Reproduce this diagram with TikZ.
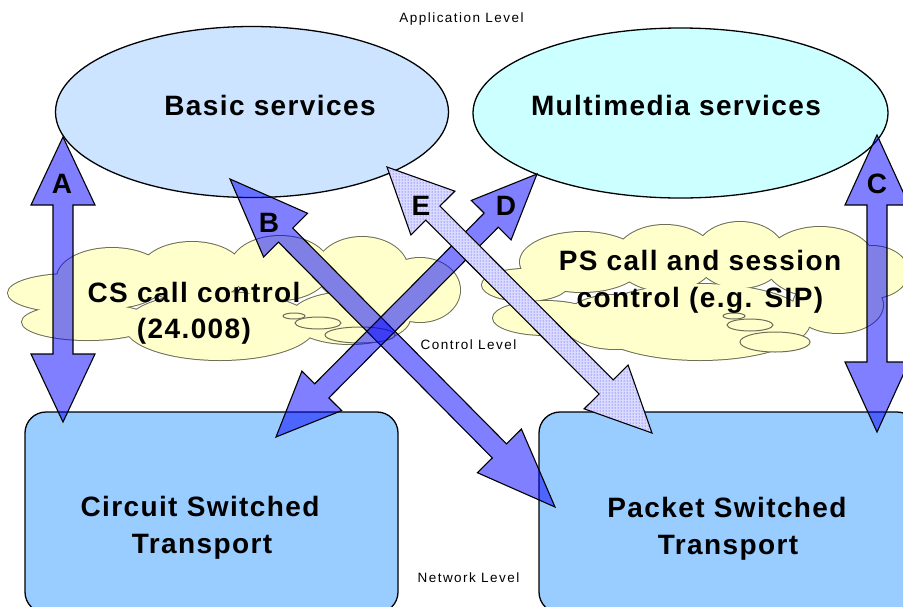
\documentclass[tikz,border=0pt]{standalone}
\usepackage{fontspec}
\setmainfont{Liberation Sans}
\usetikzlibrary{calc,patterns}

\definecolor{boxblue}{HTML}{99CCFF}
\definecolor{basicfill}{HTML}{CCE4FF}
\definecolor{mmfill}{HTML}{CCFFFF}
\definecolor{cloudfill}{HTML}{FFFFCC}
\definecolor{cloudedge}{HTML}{6E6E58}

% Double-headed block arrow between two tips:
% #1,#2 tips, #3 head length, #4 head half width, #5 shaft half width, #6 style
\newcommand\dblarrow[6]{%
  \path[#6] (#1)
    -- ($(#1)!#3!(#2)!#4!90:(#2)$)
    -- ($(#1)!#3!(#2)!#5!90:(#2)$)
    -- ($(#2)!#3!(#1)!#5!-90:(#1)$)
    -- ($(#2)!#3!(#1)!#4!-90:(#1)$)
    -- (#2)
    -- ($(#2)!#3!(#1)!#4!90:(#1)$)
    -- ($(#2)!#3!(#1)!#5!90:(#1)$)
    -- ($(#1)!#3!(#2)!#5!-90:(#2)$)
    -- ($(#1)!#3!(#2)!#4!-90:(#2)$)
    -- cycle;}

\tikzset{
  bigtext/.style={font=\fontsize{28}{34}\selectfont\bfseries\addfontfeatures{LetterSpace=5},
    inner sep=0pt, anchor=base},
  leveltext/.style={font=\fontsize{13.5}{16}\selectfont\addfontfeatures{LetterSpace=11},
    inner sep=0pt, anchor=base},
  letter/.style={font=\fontsize{28}{34}\selectfont\bfseries, inner sep=0pt, anchor=base},
  service/.style={draw=black, line width=1.3pt},
  transport/.style={draw=black, line width=1.3pt, fill=boxblue, rounded corners=21pt},
  blockarrow/.style={draw=black, line width=1.1pt, fill=blue, fill opacity=0.5, line join=miter},
  cloudrim/.style={draw=cloudedge, line width=2pt},
  bubble/.style={draw=cloudedge, line width=1pt, fill=cloudfill},
}

\begin{document}
\begin{tikzpicture}[x=1pt,y=-1pt]
\useasboundingbox (0,0) rectangle (903,606);
\clip (0,0) rectangle (903,606);
\fill[white] (0,0) rectangle (903,606);

% ---- control level clouds (union of lobes, outer rim only) ----
\def\cscloud{70/293/62/19, 88/322/66/18, 112/278/55/30, 192/272/52/30,
  280/268/50/32, 362/270/46/33, 420/290/40/32, 220/326/95/34, 350/318/60/26}
\def\pscloud{525/285/43/16, 545/318/52/17, 582/262/62/30, 665/258/50/33,
  740/255/45/33, 820/262/55/35, 872/272/36/26, 838/305/45/28,
  700/322/110/38, 615/322/52/27}
\foreach \cx/\cy/\rx/\ry in \cscloud
  \path[cloudrim] (\cx,\cy) ellipse [x radius=\rx pt, y radius=\ry pt];
\foreach \cx/\cy/\rx/\ry in \pscloud
  \path[cloudrim] (\cx,\cy) ellipse [x radius=\rx pt, y radius=\ry pt];
\foreach \cx/\cy/\rx/\ry in \cscloud
  \fill[cloudfill] (\cx,\cy) ellipse [x radius=\rx pt, y radius=\ry pt];
\foreach \cx/\cy/\rx/\ry in \pscloud
  \fill[cloudfill] (\cx,\cy) ellipse [x radius=\rx pt, y radius=\ry pt];
% callout bubbles
\foreach \cx/\cy/\rx/\ry in {294/316/11/3, 318/323/23/6, 360/335/35/8,
  734/316/11/3, 750/325/23/6, 775/342/35/10}
  \path[bubble] (\cx,\cy) ellipse [x radius=\rx pt, y radius=\ry pt];

% ---- application level services ----
\path[service, fill=basicfill] (252,112) ellipse [x radius=196.5pt, y radius=85.5pt];
\path[service, fill=mmfill] (680.5,113) ellipse [x radius=207.5pt, y radius=85pt];

% ---- network level transports ----
\draw[transport] (25,412) rectangle (398,613);
\draw[transport] (539,412) rectangle (918,613);

% ---- interface arrows ----
\coordinate (Atop) at (63,137);
\coordinate (Abot) at (63,422);
\coordinate (Ctop) at (877,135);
\coordinate (Cbot) at (877,432);
\coordinate (Btop) at (230,179);
\coordinate (Bbot) at (555,507);
\coordinate (Dtop) at (537,174);
\coordinate (Dbot) at (276,437);
\coordinate (Etop) at (387,167);
\coordinate (Ebot) at (652,433);

\dblarrow{Atop}{Abot}{68pt}{32pt}{10pt}{blockarrow}
\dblarrow{Ctop}{Cbot}{70pt}{32pt}{10pt}{blockarrow}
\dblarrow{Btop}{Bbot}{79pt}{31pt}{10pt}{blockarrow}
\dblarrow{Dtop}{Dbot}{65pt}{28pt}{10pt}{blockarrow}
\dblarrow{Etop}{Ebot}{65pt}{31pt}{10pt}{fill=blue!14}
\dblarrow{Etop}{Ebot}{65pt}{31pt}{10pt}{draw=black, line width=1.1pt, line join=miter, pattern=dots, pattern color=blue!85}

% ---- arrow letters ----
\node[letter] (lblA) at (62,193) {A};
\node[letter] (lblB) at (269,232) {B};
\node[letter] (lblC) at (877,193) {C};
\node[letter] (lblD) at (506,215) {D};
\node[letter] (lblE) at (421,215) {E};

% ---- texts ----
\node[bigtext] (basic) at (270,115) {Basic services};
\node[bigtext] (mm) at (676,115) {Multimedia services};
\node[bigtext] (cs1) at (194,302) {CS call control};
\node[bigtext] (cs2) at (194,338) {(24.008)};
\node[bigtext] (ps1) at (700,270) {PS call and session};
\node[bigtext] (ps2) at (700,307) {control (e.g. SIP)};
\node[bigtext] (cst1) at (200,516) {Circuit Switched};
\node[bigtext] (cst2) at (202,553) {Transport};
\node[bigtext] (pst1) at (727,517) {Packet Switched};
\node[bigtext] (pst2) at (728,554) {Transport};

\node[leveltext] (app) at (461.5,22) {Application Level};
\node[leveltext] (ctl) at (468.5,349) {Control Level};
\node[leveltext] (net) at (468.5,582) {Network Level};
\end{tikzpicture}
\end{document}
